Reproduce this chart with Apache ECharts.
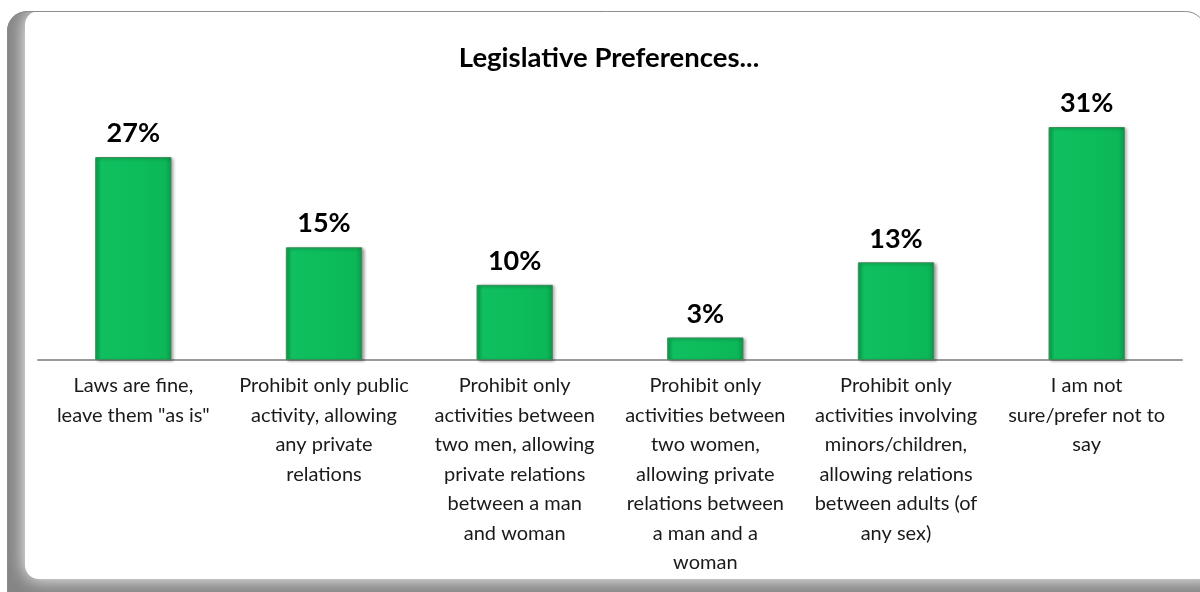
<!DOCTYPE html>
<html>
<head>
<meta charset="utf-8">
<script src="https://cdn.jsdelivr.net/npm/echarts@6/dist/echarts.min.js"></script>
<style>
html,body{margin:0;padding:0;background:#fff;}
#chart{width:1200px;height:592px;}
</style>
</head>
<body>
<div id="chart"></div>
<script>
const title = 'Legislative Preferences...';
const categories = [
  'Laws are fine,\nleave them "as is"',
  'Prohibit only public\nactivity, allowing\nany private\nrelations',
  'Prohibit only\nactivities between\ntwo men, allowing\nprivate relations\nbetween a man\nand woman',
  'Prohibit only\nactivities between\ntwo women,\nallowing private\nrelations between\na man and a\nwoman',
  'Prohibit only\nactivities involving\nminors/children,\nallowing relations\nbetween adults (of\nany sex)',
  'I am not\nsure/prefer not to\nsay'
];
const values = [27, 15, 10, 3, 13, 31];

const chart = echarts.init(document.getElementById('chart'), null, {renderer: 'canvas'});
const font = 'Lato, "Open Sans", sans-serif';

const barFill = new echarts.graphic.LinearGradient(0, 0, 1, 0, [
  {offset: 0, color: '#0aa84f'},
  {offset: 0.08, color: '#10c060'},
  {offset: 0.5, color: '#0dbd5c'},
  {offset: 0.92, color: '#0cb758'},
  {offset: 1, color: '#099a47'}
]);

chart.setOption({
  animation: false,
  backgroundColor: '#fff',
  graphic: [
    {type: 'rect', z: -10, silent: true,
      shape: {x: 7, y: 11, width: 1198, height: 600, r: 20},
      style: {fill: '#858585'}},
    {type: 'rect', z: -9, silent: true,
      shape: {x: 25, y: 11, width: 1200, height: 568, r: 14},
      style: {fill: '#fff', shadowBlur: 18, shadowColor: '#fff'}},
    {type: 'rect', z: -8, silent: true,
      shape: {x: 7.5, y: 11.5, width: 1198, height: 600, r: 20},
      style: {fill: 'none', stroke: '#8c8c8c', lineWidth: 1}},
    {type: 'text', z: 10, silent: true, x: 609, y: 58,
      style: {text: title, align: 'center', verticalAlign: 'middle',
        font: 'bold 27.5px ' + font, fill: '#000'}}
  ],
  grid: {left: 38, right: 18, top: 97, bottom: 232},
  xAxis: {
    type: 'category', data: categories,
    axisLine: {lineStyle: {color: '#9a9a9a', width: 2}},
    axisTick: {show: false},
    axisLabel: {interval: 0, margin: 11, fontFamily: font, fontSize: 20, lineHeight: 29.5, color: '#1a1a1a', align: 'center'}
  },
  yAxis: {
    type: 'value', min: 0, max: 35, show: false, splitLine: {show: false}
  },
  series: [{
    type: 'bar', data: values, barWidth: '40%',
    itemStyle: {
      color: barFill, borderColor: '#3c8a58', borderWidth: 1,
      shadowBlur: 3, shadowColor: 'rgba(0,0,0,0.35)', shadowOffsetX: 2, shadowOffsetY: 1
    },
    label: {
      show: true, position: 'top', distance: 10, formatter: '{c}%',
      fontFamily: font, fontWeight: 'bold', fontSize: 27, color: '#000'
    }
  }]
});
</script>
</body>
</html>
